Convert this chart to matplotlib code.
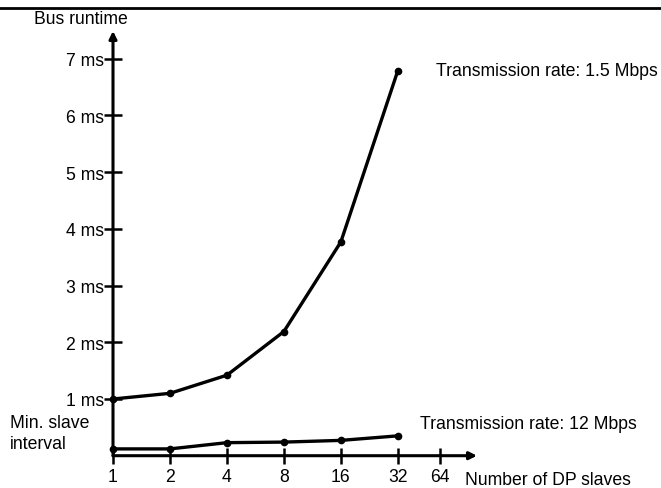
import numpy as np
import matplotlib
matplotlib.use('Agg')
import matplotlib.pyplot as plt
from matplotlib.lines import Line2D

slaves = [1, 2, 4, 8, 16, 32]
rate_15 = [1.0, 1.1, 1.42, 2.19, 3.77, 6.79]
rate_12 = [0.12, 0.12, 0.23, 0.24, 0.27, 0.35]
x_tick_labels = ['1', '2', '4', '8', '16', '32', '64']
x_tick_pos = [0, 1, 2, 3, 4, 5, 5.74]
y_ticks = [1, 2, 3, 4, 5, 6, 7]

plt.rcParams['font.family'] = ['Liberation Sans', 'DejaVu Sans']
W, H = 661, 489
FS = 12.7
fig = plt.figure(figsize=(W / 100, H / 100), dpi=100)

def px(x, y):
    return x / W, 1 - y / H

ax = fig.add_axes([113 / W, (H - 456.7) / H, 364 / W, (456.7 - 32) / H])
ax.set_xlim(0, 6.39)
ax.set_ylim(0, 7.49)
for s in ax.spines.values():
    s.set_visible(False)

pos = np.log2(slaves)
ax.plot(pos, rate_15, color='black', lw=2.4, marker='o', ms=4.5, clip_on=False)
ax.plot(pos, rate_12, color='black', lw=2.4, marker='o', ms=4.5, clip_on=False)

# axes with arrows
ax.annotate('', xy=(1, 0), xytext=(0, 0), xycoords='axes fraction',
            arrowprops=dict(arrowstyle='-|>', lw=2.2, color='black', mutation_scale=11, shrinkA=0, shrinkB=0))
ax.annotate('', xy=(0, 1), xytext=(0, 0), xycoords='axes fraction',
            arrowprops=dict(arrowstyle='-|>', lw=2.2, color='black', mutation_scale=11, shrinkA=0, shrinkB=0))

ax.set_xticks(x_tick_pos)
ax.set_xticklabels(x_tick_labels)
ax.set_yticks(y_ticks)
ax.set_yticklabels([f'{v} ms' for v in y_ticks])
ax.tick_params(axis='y', direction='inout', length=13, width=1.8, pad=0, labelsize=FS)
ax.tick_params(axis='x', direction='inout', length=11, width=1.8, pad=3, labelsize=FS)

fig.text(*px(81, 20), 'Bus runtime', ha='center', va='center', fontsize=FS)
fig.text(*px(436, 71), 'Transmission rate: 1.5 Mbps', ha='left', va='center', fontsize=FS)
fig.text(*px(420, 425), 'Transmission rate: 12 Mbps', ha='left', va='center', fontsize=FS)
fig.text(*px(465, 481), 'Number of DP slaves', ha='left', va='center', fontsize=FS)
fig.text(*px(10, 434), 'Min. slave\ninterval', ha='left', va='center', fontsize=FS, linespacing=1.25)

fig.add_artist(Line2D([0, 1], [1 - 9 / H] * 2, color='black', lw=2))

fig.savefig('out.png', dpi=100)
